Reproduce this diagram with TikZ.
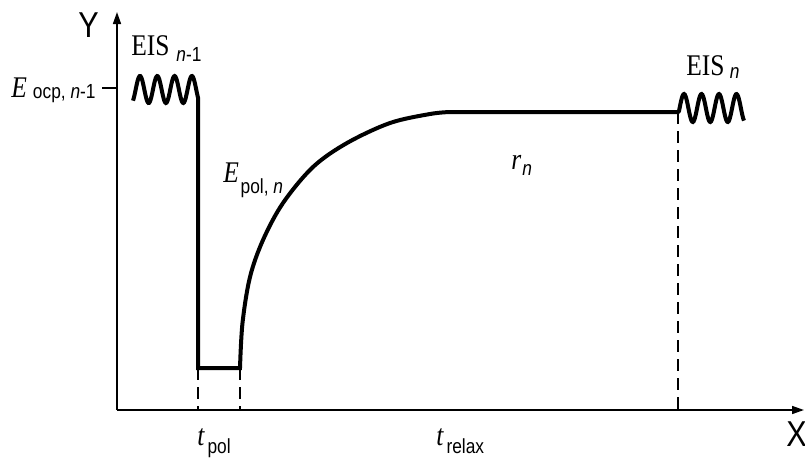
\documentclass[tikz,border=0pt]{standalone}
\usepackage{fontspec}
\setmainfont{Liberation Serif}
\setsansfont{Liberation Sans}
\usepackage{graphicx}
\usetikzlibrary{arrows.meta,positioning}
\definecolor{tracecol}{RGB}{0,0,0}
\definecolor{axiscol} {RGB}{0,0,0}
\newcommand{\subfnt}{\sffamily\fontsize{10.2}{12}\selectfont}
\newcommand{\narrow}[1]{\scalebox{0.85}[1]{#1}}
% main symbol, subscript, gap, drop
\newcommand{\subsym}[4]{\narrow{#1\hspace{#3}\raisebox{-#4}{\subfnt #2}}}
\tikzset{
  trace/.style ={line width=2pt, draw=tracecol},
  axisln/.style={line width=0.8pt, draw=axiscol,
                 -{Triangle[length=6pt,width=4pt]}},
  tickln/.style={line width=0.8pt, draw=axiscol},
  guide/.style ={line width=0.55pt, draw=axiscol,
                 dash pattern=on 6pt off 3.5pt},
  lbl/.style   ={inner sep=0pt, font=\fontsize{15}{18}\selectfont},
  axlbl/.style ={inner sep=0pt, font=\sffamily\fontsize{18}{20}\selectfont},
}
\begin{document}
\begin{tikzpicture}[x=0.5pt,y=-0.5pt]
  \useasboundingbox (0,0) rectangle (805,457);
  %% key points
  \coordinate (orig)   at (117,410);
  \coordinate (ytip)   at (117,12);
  \coordinate (xtip)   at (804,410);
  \coordinate (ocpL)   at (102,88);
  \coordinate (ocpR)   at (117,88);
  \coordinate (polA)   at (198,368);
  \coordinate (polB)   at (240,368);
  \coordinate (relaxA) at (450,112);
  \coordinate (relaxB) at (678,112);
  %% axes
  \draw[axisln] (orig) -- (ytip);
  \draw[axisln] (orig) -- (xtip);
  \draw[tickln] (ocpL) -- (ocpR);
  %% guides
  \draw[guide] (polA) -- (polA |- orig);
  \draw[guide] (polB) -- (polB |- orig);
  \draw[guide] (relaxB) -- (relaxB |- orig);
  %% potential trace
  \draw[trace] plot[domain=133:198,samples=90] (\x,{89.5-13.5*cos(20.81*(\x-140))})
    -- (polA) -- (polB)
    -- plot[smooth,tension=0.55] coordinates {(polB) (242.5,323) (250,277) (263,240)
         (283,203) (313,167) (347,143) (390,123) (430,114) (relaxA)}
    -- (relaxB)
    -- plot[domain=679:744,samples=90] (\x,{108-14*cos(20.57*(\x-684))});
  %% labels
  \node[axlbl, anchor=base west] (ylbl) at (78,37) {\narrow{Y}};
  \node[axlbl, anchor=base west] (xlbl) at (786,446) {\narrow{X}};
  \node[lbl, anchor=base east] (eocp) at (96,97)
    {\subsym{\textit{E}}{ocp, \textit{n}-1}{3.5pt}{0.5pt}};
  \node[lbl, anchor=base west] (eisprev) at (131,55)
    {\subsym{EIS}{\textit{n}-1}{4pt}{3pt}};
  \node[lbl, anchor=base west] (eisnext) at (686,75)
    {\subsym{EIS}{\textit{n}}{3pt}{1.5pt}};
  \node[lbl, anchor=base west] (epol) at (223,182)
    {\subsym{\textit{E}}{pol, \textit{n}}{1pt}{5.5pt}};
  \node[lbl, anchor=base west] (rn) at (511,169)
    {\subsym{\textit{r}}{\textit{n}}{0.5pt}{3pt}};
  \node[lbl, anchor=base west] (tpol) at (197,445)
    {\subsym{\textit{t}}{pol}{1.5pt}{4pt}};
  \node[lbl, anchor=base west] (trelax) at (436,445)
    {\subsym{\textit{t}}{relax}{1.5pt}{4pt}};
\end{tikzpicture}
\end{document}
